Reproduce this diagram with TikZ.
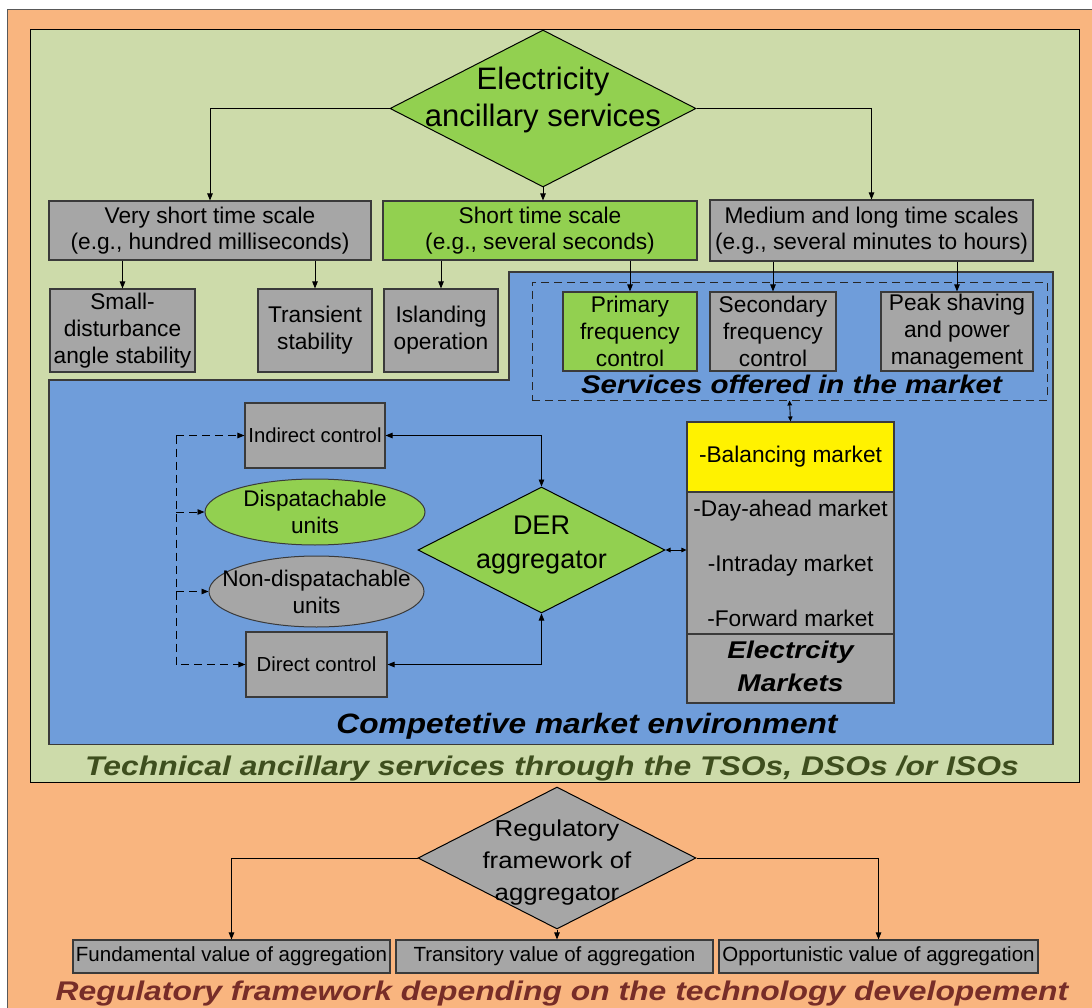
\documentclass[tikz,border=0pt]{standalone}
\usepackage{fontspec}
\setmainfont{Liberation Sans}
\usepackage{graphicx}
\usetikzlibrary{shapes.geometric,arrows.meta}
\definecolor{orangebg}{HTML}{F9B57F}
\definecolor{greenbg}{HTML}{CDDBAA}
\definecolor{bluebg}{HTML}{6F9DDA}
\definecolor{gfill}{HTML}{92D050}
\definecolor{grayfill}{HTML}{A6A6A6}
\definecolor{bordc}{HTML}{3A3A3A}
\definecolor{olivet}{HTML}{3E4E1E}
\definecolor{brownt}{HTML}{772D28}
\newcommand\fs[2]{\fontsize{#1}{#2}\selectfont}
\newcommand\bititle[3]{\scalebox{#2}[1]{\fontsize{#1}{#1}\selectfont\bfseries\itshape #3}}
\begin{document}
\begin{tikzpicture}[x=1pt,y=-1pt,
  box/.style={rectangle, draw=bordc, line width=1.1pt, inner sep=0pt, align=center},
  graybox/.style={box, fill=grayfill},
  greenbox/.style={box, fill=gfill},
  dia/.style={diamond, draw=black, line width=1pt, inner sep=0pt},
  elli/.style={ellipse, draw=bordc, line width=1pt, inner sep=0pt},
  arr/.style={-{Triangle[length=7pt,width=5.5pt]}, line width=0.9pt},
  darr/.style={{Triangle[length=7pt,width=5.5pt]}-{Triangle[length=7pt,width=5.5pt]}, line width=0.9pt},
  sdarr/.style={{Triangle[length=5pt,width=4.5pt]}-{Triangle[length=5pt,width=4.5pt]}, line width=0.9pt},
  dsh/.style={dash pattern=on 8pt off 5pt, line width=0.9pt},
  lbl/.style={inner sep=0pt, align=center}]
\useasboundingbox (0,0) rectangle (1092,1008);
\clip (0,0) rectangle (1092,1008);
\fill[white] (0,0) rectangle (1092,1008);
% backgrounds
\draw[fill=orangebg, draw=gray!70!black, line width=1pt] (7.5,9.5) rectangle (1110,1030);
\draw[fill=greenbg, draw=black, line width=0.9pt] (30,29.5) rectangle (1079,782.5);
\draw[fill=bluebg, draw=bordc, line width=1.1pt] (49,380) -- (509,380) -- (509,272) -- (1053,272) -- (1053,744.5) -- (49,744.5) -- cycle;

% top diamond
\node[dia, fill=gfill, minimum width=306pt, minimum height=157pt] (elec) at (543,108.5) {};
\node[lbl, font=\fs{31}{37.5}] (elect) at (543,100) {Electricity\\ancillary services};

% level 1
\node[graybox, minimum width=322pt, minimum height=59pt, font=\fs{22.7}{26}] (vs) at (210,230.5) {Very short time scale\\(e.g., hundred milliseconds)};
\node[greenbox, minimum width=314pt, minimum height=59pt, font=\fs{22.7}{26}] (st) at (540,230.5) {Short time scale\\(e.g., several seconds)};
\node[graybox, minimum width=323pt, minimum height=61pt, font=\fs{22.7}{26}] (ml) at (871.5,230.5) {Medium and long time scales\\(e.g., several minutes to hours)};

\draw[arr] (elec.west) -| (vs.north);
\draw[arr] (elec.east) -| (ml.north);
\draw[arr] (elec.south) -- (elec.south |- st.north);

% level 2
\node[graybox, minimum width=145pt, minimum height=83pt, font=\fs{22.7}{27}] (sd) at (122.5,330.5) {Small-\\disturbance\\angle stability};
\node[graybox, minimum width=114pt, minimum height=83pt, font=\fs{22.7}{27}] (tr) at (315,330.5) {Transient\\stability};
\node[graybox, minimum width=114pt, minimum height=83pt, font=\fs{22.7}{27}] (is) at (441,330.5) {Islanding\\operation};

\node[draw=black!85, dsh, rectangle, minimum width=515pt, minimum height=118pt, inner sep=0pt] (svc) at (789.5,341) {};
\node[greenbox, minimum width=134pt, minimum height=79pt, font=\fs{22.7}{27}] (pf) at (630,331.5) {Primary\\frequency\\control};
\node[graybox, minimum width=126pt, minimum height=79pt, font=\fs{22.7}{27}] (sf) at (773,331.5) {Secondary\\frequency\\control};
\node[graybox, minimum width=152pt, minimum height=79pt, font=\fs{22.7}{27}] (ps) at (957,331.5) {Peak shaving\\and power\\management};
\node[anchor=base, inner sep=0pt] (svct) at (791.5,393) {\bititle{25.5}{1.157}{Services offered in the market}};

\draw[arr] (sd.north |- vs.south) -- (sd.north);
\draw[arr] (tr.north |- vs.south) -- (tr.north);
\draw[arr] (is.north |- st.south) -- (is.north);
\draw[arr] (pf.north |- st.south) -- (pf.north);
\draw[arr] (sf.north |- ml.south) -- (sf.north);
\draw[arr] (ps.north |- ml.south) -- (ps.north);

% aggregator part
\node[graybox, minimum width=140pt, minimum height=65pt, font=\fs{20.3}{24}] (ind) at (315,435.5) {Indirect control};
\node[graybox, minimum width=141pt, minimum height=65pt, font=\fs{20.3}{24}] (dir) at (316.5,664.5) {Direct control};
\node[elli, fill=gfill, minimum width=220pt, minimum height=66pt] (disp) at (315,512) {};
\node[lbl, font=\fs{22.6}{27}] (dispt) at (315,512) {Dispatachable\\units};
\node[elli, fill=grayfill, minimum width=215pt, minimum height=71pt] (ndisp) at (316.5,591.5) {};
\node[lbl, font=\fs{22.6}{27}] (ndispt) at (316.5,591.5) {Non-dispatachable\\units};

\coordinate (dtop) at (176,435.5);
\coordinate (dbot) at (176,664.5);
\draw[dsh, -{Triangle[length=7pt,width=5.5pt]}] (dtop) -- (ind.west);
\draw[dsh, -{Triangle[length=7pt,width=5.5pt]}] (dtop) -- (dbot) -- (dir.west);
\draw[dsh, -{Triangle[length=7pt,width=5.5pt]}] (disp.west -| dtop) -- (disp.west);
\draw[dsh, -{Triangle[length=7pt,width=5.5pt]}] (ndisp.west -| dtop) -- (ndisp.west);

\node[dia, fill=gfill, minimum width=247pt, minimum height=126pt] (der) at (541.5,550) {};
\node[lbl, font=\fs{27}{34}] (dert) at (541.5,545) {DER\\aggregator};

\draw[darr] (ind.east) -| (der.north);
\draw[darr] (dir.east) -| (der.south);

% markets
\node[box, fill=yellow, minimum width=207pt, minimum height=70pt, font=\fs{22.7}{27}] (bal) at (790.5,457) {-Balancing market};
\node[graybox, minimum width=207pt, minimum height=142pt, font=\fs{22.7}{55}] (mlist) at (790.5,563) {-Day-ahead market\\-Intraday market\\-Forward market};
\node[graybox, minimum width=207pt, minimum height=69pt] (mtit) at (790.5,668.5) {\scalebox{1.16}[1]{\fs{24.2}{33}\bfseries\itshape\begin{tabular}{@{}c@{}}Electrcity\\Markets\end{tabular}}};

\draw[sdarr] (der.east) -- (mlist.west |- der.east);
\draw[sdarr] (svc.south) -- (bal.north);

% titles
\node[anchor=base, inner sep=0pt] (comp) at (587,733) {\bititle{28}{1.13}{Competetive market environment}};
\node[anchor=base, inner sep=0pt, text=olivet] (tech) at (552,775) {\bititle{27}{1.18}{Technical ancillary services through the TSOs, DSOs /or ISOs}};

% regulatory part
\node[dia, fill=grayfill, minimum width=278pt, minimum height=142pt] (reg) at (557,858) {};
\node[lbl, font=\fs{23}{32}] (regtx) at (557,862) {\scalebox{1.12}[1]{\begin{tabular}{@{}c@{}}Regulatory\\framework of\\aggregator\end{tabular}}};

\node[graybox, minimum width=317pt, minimum height=33pt, font=\fs{20.5}{24}] (fund) at (231.5,956.5) {Fundamental value of aggregation};
\node[graybox, minimum width=317pt, minimum height=33pt, font=\fs{20.5}{24}] (trans) at (554.5,956.5) {Transitory value of aggregation};
\node[graybox, minimum width=319pt, minimum height=33pt, font=\fs{20.5}{24}] (opp) at (878.5,956.5) {Opportunistic value of aggregation};

\draw[arr] (reg.west) -| (fund.north);
\draw[arr] (reg.east) -| (opp.north);
\draw[arr] (reg.south) -- (reg.south |- trans.north);

\node[anchor=base, inner sep=0pt, text=brownt] (regt) at (562,1000) {\bititle{27}{1.18}{Regulatory framework depending on the technology developement}};
\end{tikzpicture}
\end{document}
